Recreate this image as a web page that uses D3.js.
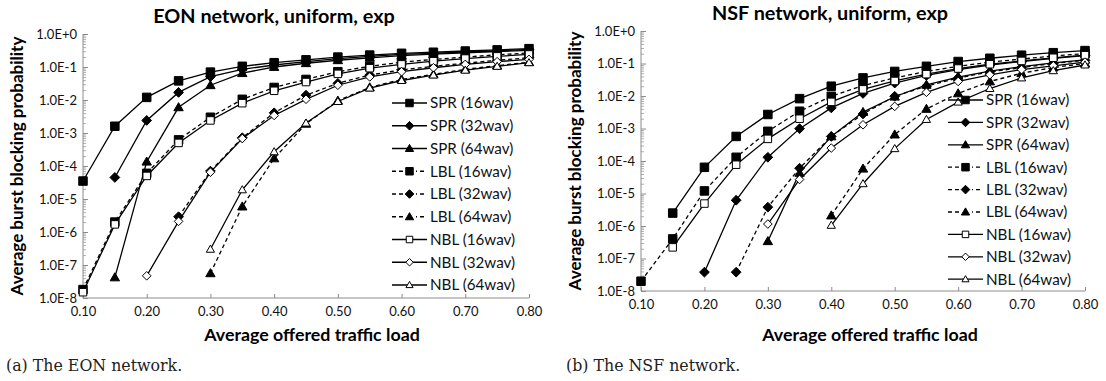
<!DOCTYPE html>
<html>
<head>
<meta charset="utf-8">
<script src="https://cdn.jsdelivr.net/npm/d3@7"></script>
<style>
  body { margin: 0; background: #fff; }
  svg { display: block; }
  .tick text { font-family: Lato, "Open Sans", sans-serif; font-size: 13px; fill: #111; }
</style>
</head>
<body>
<div id="chart"></div>
<script>
// offered loads (x values)
const loads = [0.10, 0.15, 0.20, 0.25, 0.30, 0.35, 0.40, 0.45, 0.50, 0.55, 0.60, 0.65, 0.70, 0.75, 0.80];
const xTickValues = [0.10, 0.20, 0.30, 0.40, 0.50, 0.60, 0.70, 0.80];
const xTickLabels = ['0.10', '0.20', '0.30', '0.40', '0.50', '0.60', '0.70', '0.80'];
const yTickValues = [1, 1e-1, 1e-2, 1e-3, 1e-4, 1e-5, 1e-6, 1e-7, 1e-8];
const yTickLabels = ['1.0E+0', '1.0E-1', '1.0E-2', '1.0E-3', '1.0E-4', '1.0E-5', '1.0E-6', '1.0E-7', '1.0E-8'];

const seriesNames = ['SPR (16wav)', 'SPR (32wav)', 'SPR (64wav)', 'LBL (16wav)', 'LBL (32wav)', 'LBL (64wav)', 'NBL (16wav)', 'NBL (32wav)', 'NBL (64wav)'];

// EON network
const eonSPR16 = [3.5e-5, 1.6e-3, 1.2e-2, 3.8e-2, 7e-2, 0.105, 0.135, 0.165, 0.2, 0.23, 0.26, 0.28, 0.305, 0.33, 0.36];
const eonSPR32 = [null, 4.5e-5, 2.4e-3, 1.7e-2, 5.1e-2, 0.085, 0.115, 0.145, 0.18, 0.21, 0.24, 0.26, 0.285, 0.31, 0.34];
const eonSPR64 = [null, 4.2e-8, 1.35e-4, 6e-3, 2.8e-2, 0.065, 0.1, 0.13, 0.16, 0.19, 0.22, 0.245, 0.27, 0.295, 0.32];
const eonLBL16 = [1.8e-8, 2.0e-6, 6e-5, 6.2e-4, 3.0e-3, 1.05e-2, 2.4e-2, 4.2e-2, 0.072, 0.105, 0.14, 0.17, 0.2, 0.235, 0.265];
const eonLBL32 = [null, null, null, 2.9e-6, 7e-5, 7.2e-4, 4.1e-3, 1.4e-2, 0.032, 0.057, 0.082, 0.105, 0.13, 0.16, 0.19];
const eonLBL64 = [null, null, null, null, 5.6e-8, 5.9e-6, 1.7e-4, 1.9e-3, 9.5e-3, 0.024, 0.042, 0.06, 0.085, 0.11, 0.14];
const eonNBL16 = [1.5e-8, 1.7e-6, 5e-5, 5e-4, 2.4e-3, 8e-3, 1.9e-2, 3.5e-2, 0.062, 0.092, 0.12, 0.15, 0.18, 0.21, 0.24];
const eonNBL32 = [null, null, 4.7e-8, 2.1e-6, 6.5e-5, 6.8e-4, 3.4e-3, 1.05e-2, 0.028, 0.05, 0.072, 0.095, 0.12, 0.145, 0.17];
const eonNBL64 = [null, null, null, null, 3e-7, 1.9e-5, 2.7e-4, 2e-3, 9e-3, 0.023, 0.039, 0.057, 0.08, 0.105, 0.135];

// NSF network
const nsfSPR16 = [null, 2.5e-6, 6.4e-5, 5.7e-4, 2.7e-3, 8.3e-3, 2e-2, 3.6e-2, 0.057, 0.082, 0.115, 0.145, 0.18, 0.215, 0.25];
const nsfSPR32 = [null, null, 3.8e-8, 6.2e-6, 1.3e-4, 9.9e-4, 4.3e-3, 1.2e-2, 0.025, 0.043, 0.065, 0.09, 0.115, 0.145, 0.175];
const nsfSPR64 = [null, null, null, null, 3.4e-7, 4.3e-5, 5.7e-4, 3.2e-3, 9.5e-3, 0.022, 0.038, 0.058, 0.08, 0.105, 0.13];
const nsfLBL16 = [2e-8, 4e-7, 1.2e-5, 1.3e-4, 8.2e-4, 3.4e-3, 9.8e-3, 2.1e-2, 0.036, 0.057, 0.082, 0.11, 0.137, 0.17, 0.2];
const nsfLBL32 = [null, null, null, 3.8e-8, 3.8e-6, 6e-5, 5.7e-4, 2.8e-3, 9.8e-3, 0.02, 0.036, 0.055, 0.075, 0.1, 0.125];
const nsfLBL64 = [null, null, null, null, null, null, 2.1e-6, 5.8e-5, 6.5e-4, 4e-3, 0.012, 0.028, 0.05, 0.075, 0.1];
const nsfNBL16 = [null, 2.2e-7, 4.9e-6, 7.7e-5, 4.8e-4, 2e-3, 6.6e-3, 1.6e-2, 0.029, 0.047, 0.07, 0.095, 0.12, 0.15, 0.18];
const nsfNBL32 = [null, null, null, null, 1.15e-6, 2.7e-5, 2.5e-4, 1.3e-3, 4.8e-3, 0.013, 0.028, 0.045, 0.065, 0.085, 0.11];
const nsfNBL64 = [null, null, null, null, null, null, 1.05e-6, 2e-5, 2.4e-4, 1.9e-3, 6.5e-3, 0.017, 0.036, 0.06, 0.09];

// one style per series, same order as seriesNames
const styles = [
  { shape: 'square', filled: true, dashed: false },
  { shape: 'diamond', filled: true, dashed: false },
  { shape: 'triangle', filled: true, dashed: false },
  { shape: 'square', filled: true, dashed: true },
  { shape: 'diamond', filled: true, dashed: true },
  { shape: 'triangle', filled: true, dashed: true },
  { shape: 'square', filled: false, dashed: false },
  { shape: 'diamond', filled: false, dashed: false },
  { shape: 'triangle', filled: false, dashed: false }
];

function markerPath(shape, s) {
  const h = s / 2;
  if (shape === 'square') return `M${-h},${-h}H${h}V${h}H${-h}Z`;
  if (shape === 'diamond') return `M0,${-h * 1.15}L${h * 1.15},0L0,${h * 1.15}L${-h * 1.15},0Z`;
  return `M0,${-h * 1.1}L${h * 1.1},${h * 0.8}L${-h * 1.1},${h * 0.8}Z`;
}

const width = 1106, height = 381;
const svg = d3.select('#chart').append('svg').attr('width', width).attr('height', height);
const sans = 'Lato, "Open Sans", sans-serif';

function drawChart(cfg) {
  const g = svg.append('g');
  const x = d3.scaleLinear().domain([0.1, 0.8]).range([cfg.left, cfg.right]);
  const y = d3.scaleLog().domain([1e-8, 1]).range([cfg.bottom, cfg.top]);

  // minor log ticks
  const minor = [];
  for (let e = -8; e < 0; e++) for (let k = 2; k <= 9; k++) minor.push(k * Math.pow(10, e));
  g.append('g')
    .attr('transform', `translate(${cfg.left},0)`)
    .call(d3.axisLeft(y).tickValues(minor).tickSize(-3).tickFormat(''))
    .call(a => a.select('.domain').remove())
    .selectAll('line').attr('stroke', '#b0b0b0');

  const yAxis = g.append('g')
    .attr('transform', `translate(${cfg.left},0)`)
    .call(d3.axisLeft(y).tickValues(yTickValues).tickSize(-5).tickPadding(6)
      .tickFormat((d, i) => yTickLabels[i]));
  yAxis.select('.domain').attr('stroke', '#8c8c8c').attr('d', `M0,${cfg.top}V${cfg.bottom}`);
  yAxis.selectAll('.tick line').attr('stroke', '#8c8c8c');

  const xAxis = g.append('g')
    .attr('transform', `translate(0,${cfg.bottom})`)
    .call(d3.axisBottom(x).tickValues(xTickValues).tickSize(-4).tickPadding(9)
      .tickFormat((d, i) => xTickLabels[i]));
  xAxis.select('.domain').attr('stroke', '#8c8c8c').attr('d', `M${cfg.left},0H${cfg.right}`);
  xAxis.selectAll('.tick line').attr('stroke', '#8c8c8c');

  const line = d3.line()
    .defined(d => d.v !== null)
    .x(d => x(d.x))
    .y(d => y(d.v));

  cfg.series.forEach((vals, i) => {
    const st = styles[i];
    const pts = loads.map((l, j) => ({ x: l, v: vals[j] }));
    g.append('path')
      .datum(pts)
      .attr('fill', 'none')
      .attr('stroke', '#000')
      .attr('stroke-width', 1.3)
      .attr('stroke-dasharray', st.dashed ? '4,3' : null)
      .attr('d', line);
    g.selectAll(null)
      .data(pts.filter(d => d.v !== null))
      .enter().append('path')
      .attr('transform', d => `translate(${x(d.x)},${y(d.v)})`)
      .attr('d', markerPath(st.shape, st.filled ? 8.5 : 7.5))
      .attr('fill', st.filled ? '#000' : '#fff')
      .attr('stroke', '#000')
      .attr('stroke-width', 1);
  });

  // legend
  const lg = g.append('g');
  seriesNames.forEach((name, i) => {
    const st = styles[i];
    const ly = cfg.legY + i * cfg.legStep;
    lg.append('line')
      .attr('x1', cfg.legX).attr('x2', cfg.legX + 35)
      .attr('y1', ly).attr('y2', ly)
      .attr('stroke', '#000').attr('stroke-width', 1.3)
      .attr('stroke-dasharray', st.dashed ? '4,3' : null);
    if (st.dashed) {
      lg.append('rect').attr('x', cfg.legX + 11).attr('y', ly - 4).attr('width', 13).attr('height', 8).attr('fill', '#fff');
    }
    lg.append('path')
      .attr('transform', `translate(${cfg.legX + 17.5},${ly})`)
      .attr('d', markerPath(st.shape, st.filled ? 7.5 : 6.5))
      .attr('fill', st.filled ? '#000' : '#fff')
      .attr('stroke', '#000').attr('stroke-width', 1);
    lg.append('text')
      .attr('x', cfg.legX + 38).attr('y', ly)
      .attr('dy', '0.35em')
      .style('font-family', sans)
      .style('font-size', '15.2px')
      .attr('fill', '#111')
      .text(name);
  });

  g.append('text')
    .attr('x', cfg.titleX).attr('y', cfg.titleY)
    .attr('text-anchor', 'middle').attr('dy', '0.35em')
    .style('font-family', sans)
    .style('font-weight', 'bold').style('font-size', '19.8px')
    .text(cfg.title);

  g.append('text')
    .attr('transform', `translate(${cfg.yLabelX},${(cfg.top + cfg.bottom) / 2}) rotate(-90)`)
    .attr('text-anchor', 'middle').attr('dy', '0.35em')
    .style('font-family', sans)
    .style('font-weight', 'bold').style('font-size', '17px')
    .text('Average burst blocking probability');

  g.append('text')
    .attr('x', cfg.xLabelX).attr('y', 335)
    .attr('text-anchor', 'middle').attr('dy', '0.35em')
    .style('font-family', sans)
    .style('font-weight', 'bold').style('font-size', '17.8px')
    .text('Average offered traffic load');

  g.append('text')
    .attr('x', cfg.capX).attr('y', 365)
    .attr('dy', '0.35em')
    .style('font-family', '"DejaVu Serif", serif')
    .style('font-size', '15.8px')
    .attr('fill', '#222')
    .text(cfg.caption);
}

drawChart({
  left: 83, right: 529, top: 34, bottom: 298,
  series: [eonSPR16, eonSPR32, eonSPR64, eonLBL16, eonLBL32, eonLBL64, eonNBL16, eonNBL32, eonNBL64],
  legX: 392, legY: 103, legStep: 22.75,
  title: 'EON network, uniform, exp', titleX: 274, titleY: 16,
  yLabelX: 17, xLabelX: 312,
  caption: '(a) The EON network.', capX: 6
});

drawChart({
  left: 641, right: 1085, top: 31, bottom: 291,
  series: [nsfSPR16, nsfSPR32, nsfSPR64, nsfLBL16, nsfLBL32, nsfLBL64, nsfNBL16, nsfNBL32, nsfNBL64],
  legX: 948, legY: 100, legStep: 22.4,
  title: 'NSF network, uniform, exp', titleX: 830, titleY: 13,
  yLabelX: 575, xLabelX: 870,
  caption: '(b) The NSF network.', capX: 566
});
</script>
</body>
</html>
